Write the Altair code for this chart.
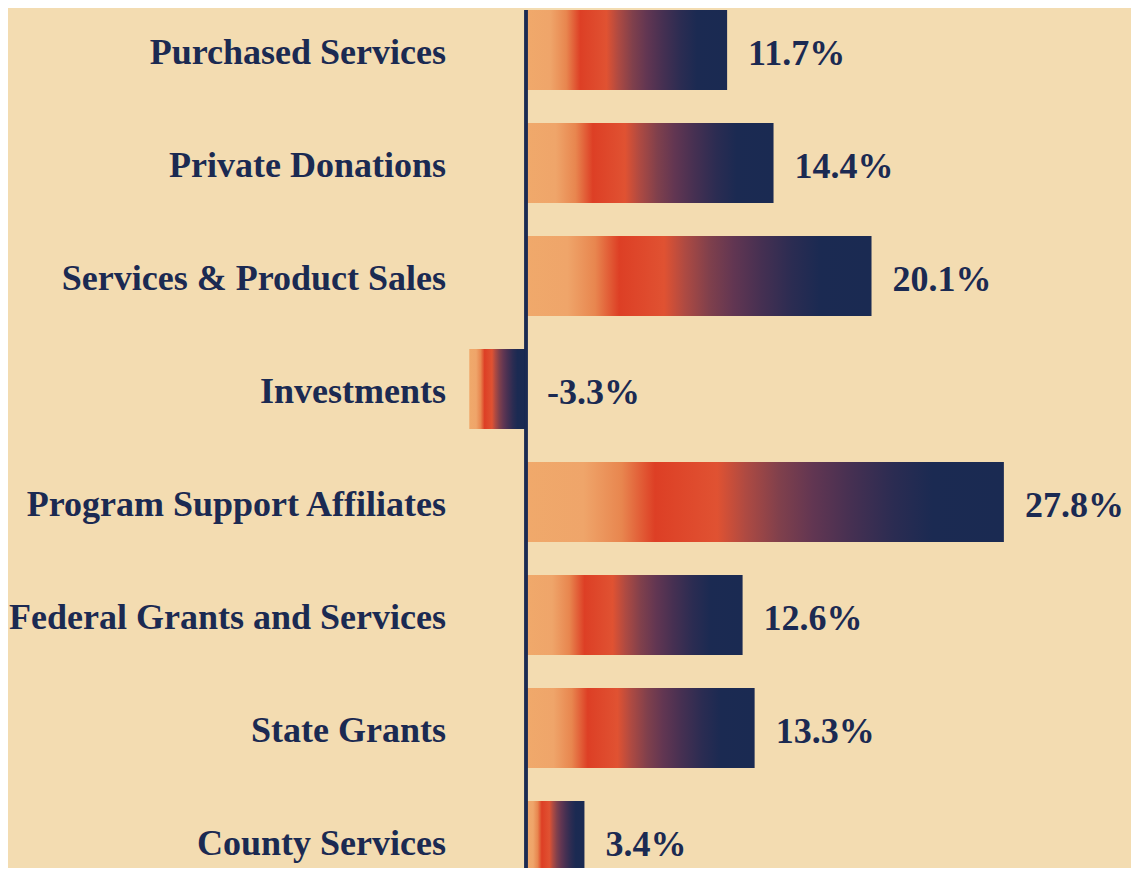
import altair as alt
import pandas as pd

categories = [
    "Purchased Services",
    "Private Donations",
    "Services & Product Sales",
    "Investments",
    "Program Support Affiliates",
    "Federal Grants and Services",
    "State Grants",
    "County Services",
]
values = [11.7, 14.4, 20.1, -3.3, 27.8, 12.6, 13.3, 3.4]
value_labels = ["11.7%", "14.4%", "20.1%", "-3.3%", "27.8%", "12.6%", "13.3%", "3.4%"]

df = pd.DataFrame({
    "category": categories,
    "value": values,
    "label": value_labels,
})
df["labelpos"] = df["value"].clip(lower=0)

BG = "#F3DCB1"
NAVY = "#1B2A52"
FONT = "Liberation Serif"

gradient = alt.LinearGradient(
    gradient="linear",
    x1=0, x2=1, y1=0, y2=0,
    stops=[
        alt.GradientStop(offset=0.0, color="#F0A96B"),
        alt.GradientStop(offset=0.12, color="#EFA56A"),
        alt.GradientStop(offset=0.2, color="#E8864F"),
        alt.GradientStop(offset=0.27, color="#DD3F25"),
        alt.GradientStop(offset=0.40, color="#E05232"),
        alt.GradientStop(offset=0.46, color="#AE4A42"),
        alt.GradientStop(offset=0.53, color="#80404C"),
        alt.GradientStop(offset=0.6, color="#623652"),
        alt.GradientStop(offset=0.68, color="#463052"),
        alt.GradientStop(offset=0.77, color="#2B2C52"),
        alt.GradientStop(offset=0.85, color="#1B2A52"),
        alt.GradientStop(offset=1.0, color="#1A2A52"),
    ],
)

xscale = alt.Scale(domain=[-30.134, 35.195], nice=False, zero=False)
yscale = alt.Scale(domain=categories, range=[2, 873], paddingInner=0.292, paddingOuter=0)

base = alt.Chart(df)

bars = base.mark_bar(color=gradient, cornerRadius=0).encode(
    x=alt.X("value:Q", scale=xscale, axis=None),
    x2=alt.datum(0),
    y=alt.Y("category:N", scale=yscale, sort=None, axis=None),
)

rule = base.mark_rule(color=NAVY, strokeWidth=2.5).encode(
    x=alt.X("zero:Q", scale=xscale),
    y=alt.value(2),
    y2=alt.value(870),
).transform_calculate(zero="0")

cat_text = base.mark_text(
    align="right", baseline="middle", dx=-80, dy=3,
    font=FONT, fontSize=36, fontWeight="bold", color=NAVY,
).encode(
    x=alt.X("zero:Q", scale=xscale),
    y=alt.Y("category:N", scale=yscale, sort=None),
    text="category:N",
).transform_calculate(zero="0")

val_text = base.mark_text(
    align="left", baseline="middle", dx=21, dy=4,
    font=FONT, fontSize=36, fontWeight="bold", color=NAVY,
).encode(
    x=alt.X("labelpos:Q", scale=xscale),
    y=alt.Y("category:N", scale=yscale, sort=None),
    text="label:N",
)

chart = alt.layer(bars, rule, cat_text, val_text).properties(
    width=1123,
    height=860,
    background=BG,
    padding=0,
    autosize=alt.AutoSizeParams(type="none"),
).configure_view(stroke=None)

chart.save("out.html", embed_options={"renderer": "svg", "actions": False})
